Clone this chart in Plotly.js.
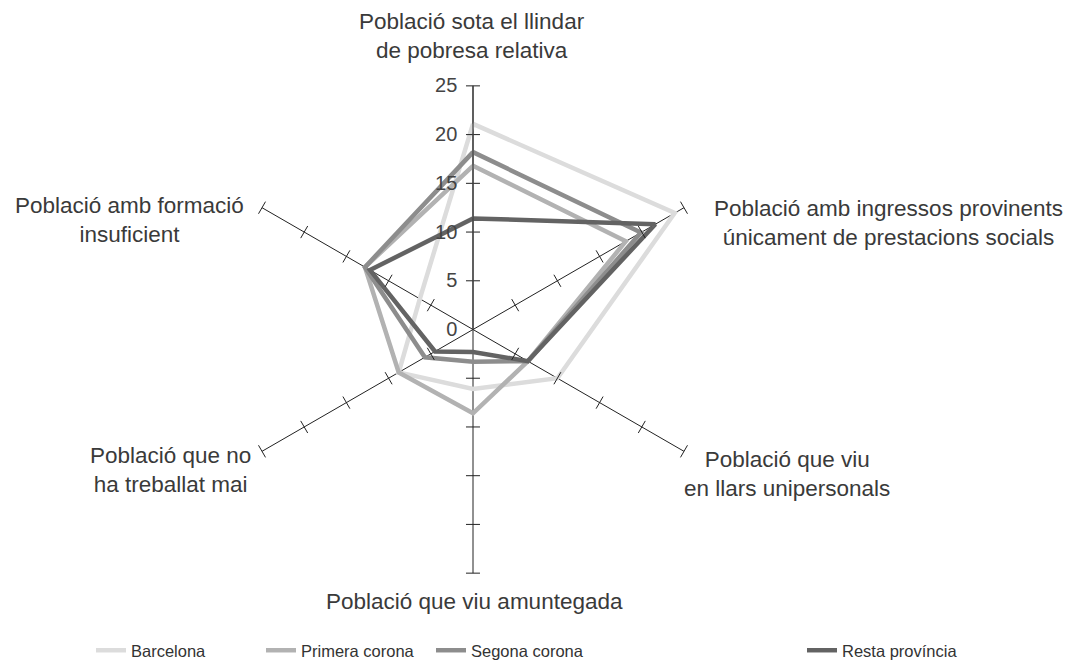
<!DOCTYPE html>
<html>
<head>
<meta charset="utf-8">
<script src="https://cdn.plot.ly/plotly-3.0.1.min.js"></script>
<style>
  html, body { margin: 0; padding: 0; background: #fff; }
  #radar { width: 1075px; height: 668px; }
</style>
</head>
<body>
<div id="radar"></div>
<script>
// axes, clockwise from the top
const categories = [
    'Població sota el llindar<br>de pobresa relativa',
    'Població amb ingressos provinents<br>únicament de prestacions socials',
    'Població que viu<br>en llars unipersonals',
    'Població que viu amuntegada',
    'Població que no<br>ha treballat mai',
    'Població amb formació<br>insuficient'
];

const seriesNames = ['Barcelona', 'Primera corona', 'Segona corona', 'Resta província'];

const barcelona = [21.1, 23.9, 10.0, 6.1, 8.8, 6.3];
const primeraCorona = [16.8, 18.1, 6.5, 8.6, 8.8, 12.8];
const segonaCorona = [18.2, 19.9, 6.5, 3.3, 5.7, 12.8];
const restaProvincia = [11.4, 21.6, 6.5, 2.3, 4.5, 12.2];

const tickValues = [0, 5, 10, 15, 20, 25];

const W = 1075, H = 668;
const px = x => x / W;
const py = y => 1 - y / H;

const colors = ['#dcdcdc', '#b2b2b2', '#8d8d8d', '#636363'];
const values = [barcelona, primeraCorona, segonaCorona, restaProvincia];

// close each polygon
const traces = values.map((vals, i) => ({
    type: 'scatterpolar',
    r: vals.concat([vals[0]]),
    theta: categories.concat([categories[0]]),
    mode: 'lines',
    name: seriesNames[i],
    line: { color: colors[i], width: 4.5 },
    legend: i === 3 ? 'legend2' : 'legend',
    hoverinfo: 'skip'
}));

// small crossing tick marks on every spoke
const tickR = [], tickTheta = [], tickAngle = [];
categories.forEach((c, i) => {
    tickValues.slice(1).forEach(v => {
        tickR.push(v);
        tickTheta.push(c);
        tickAngle.push(60 * i - 180);
    });
});
traces.push({
    type: 'scatterpolar',
    r: tickR,
    theta: tickTheta,
    mode: 'markers',
    marker: { symbol: 'line-ew', size: 10, angle: tickAngle, line: { width: 1, color: '#222' } },
    showlegend: false,
    hoverinfo: 'skip'
});

// label positions around the chart (pixel centres)
const labelPos = [
    [472, 36], [888, 223], [787, 475], [474, 602], [170, 471], [129, 220]
];
const annotations = categories.map((c, i) => ({
    text: c,
    xref: 'paper', yref: 'paper',
    x: px(labelPos[i][0]), y: py(labelPos[i][1]),
    xanchor: 'center', yanchor: 'middle',
    showarrow: false,
    align: 'center',
    font: { size: 22.5, color: '#3a3a3a' }
}));

const cx = 473, cy = 330, rad = 244;

const layout = {
    width: W, height: H,
    margin: { l: 0, r: 0, t: 0, b: 0 },
    paper_bgcolor: '#fff',
    font: { family: 'Liberation Sans, Arial, sans-serif', color: '#333' },
    polar: {
        domain: { x: [px(cx - rad), px(cx + rad)], y: [py(cy + rad), py(cy - rad)] },
        bgcolor: 'rgba(0,0,0,0)',
        angularaxis: {
            type: 'category',
            categoryarray: categories,
            rotation: 90,
            direction: 'clockwise',
            showticklabels: false,
            ticks: '',
            showline: false,
            showgrid: true,
            gridcolor: '#222',
            gridwidth: 1
        },
        radialaxis: {
            range: [0, 25],
            angle: 90,
            side: 'counterclockwise',
            tickvals: tickValues,
            ticks: 'outside',
            ticklen: 8,
            tickcolor: 'rgba(0,0,0,0)',
            tickangle: 90,
            showline: true,
            linecolor: '#444',
            linewidth: 1.3,
            showgrid: false,
            tickfont: { size: 20, color: '#444' }
        }
    },
    legend: {
        orientation: 'h',
        x: px(91), y: py(651),
        xanchor: 'left', yanchor: 'middle',
        entrywidth: 125,
        font: { size: 16.5, color: '#333' }
    },
    legend2: {
        orientation: 'h',
        x: px(802), y: py(651),
        xanchor: 'left', yanchor: 'middle',
        font: { size: 16.5, color: '#333' }
    },
    annotations: annotations,
    showlegend: true
};

Plotly.newPlot('radar', traces, layout, { staticPlot: true });
</script>
</body>
</html>
